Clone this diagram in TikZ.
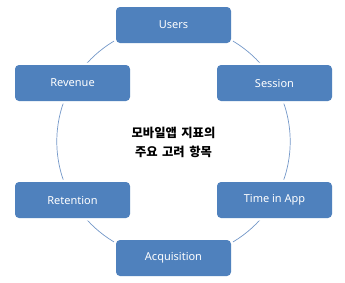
\documentclass[tikz,border=0pt]{standalone}
\usepackage{fontspec}
\setmainfont{Noto Sans}
\newfontfamily\krfont[WordSpace=1.6]{Noto Sans CJK KR}
\definecolor{boxblue}{HTML}{4F81BD}
\definecolor{ringblue}{HTML}{7397C8}
\begin{document}
\begin{tikzpicture}[x=1pt,y=-1pt,
  box/.style={rectangle, rounded corners=4pt, fill=boxblue,
    preaction={draw=white, line width=5pt},
    minimum width=115pt, minimum height=36pt, inner sep=0pt,
    text=white, font=\fontsize{11}{13}\selectfont},
  ring/.style={draw=ringblue, line width=0.7pt},
  title/.style={align=center, font=\krfont\bfseries\fontsize{12.3}{19}\selectfont}]
\useasboundingbox (0,0) rectangle (345,282);
\coordinate (c) at (173.5,141.5);
\draw[ring] (c) circle (116.7pt);
\node[box] (users) at (173.5,25) {Users};
\node[box] (session) at (274.5,83) {Session};
\node[box] (time) at (274.5,200) {Time in App};
\node[box] (acq) at (173.5,258) {Acquisition};
\node[box] (ret) at (72.5,200) {Retention};
\node[box] (rev) at (72.5,83) {Revenue};
\node[title] (t) at (173.5,142.5) {모바일앱 지표의\\주요 고려 항목};
\end{tikzpicture}
\end{document}
